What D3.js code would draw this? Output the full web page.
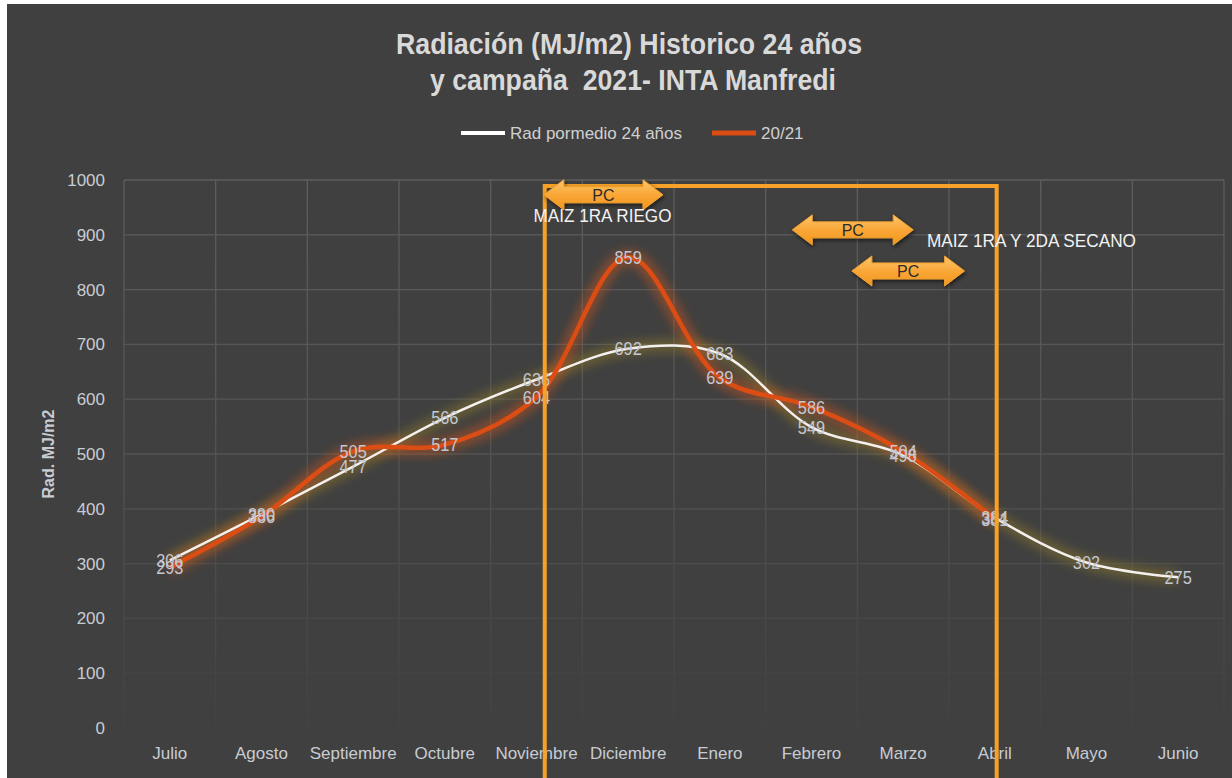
<!DOCTYPE html>
<meta charset="utf-8">
<style>
body { margin: 0; background: #fff; }
svg { display: block; }
text { font-family: "Liberation Sans Narrow", "Arial Narrow", "Liberation Sans", sans-serif; }
</style>
<body>
<script src="https://cdn.jsdelivr.net/npm/d3@7"></script>
<script>
'use strict';

// data
const months = ["Julio", "Agosto", "Septiembre", "Octubre", "Noviembre", "Diciembre",
                "Enero", "Febrero", "Marzo", "Abril", "Mayo", "Junio"];
const radHist = [306, 390, 477, 566, 636, 692, 683, 549, 498, 384, 302, 275];
const rad2021 = [293, 386, 505, 517, 604, 859, 639, 586, 504, 381];
const yTicks = [0, 100, 200, 300, 400, 500, 600, 700, 800, 900, 1000];

// annotations (month index, value)
const arrows = [
  {x0: 4.08, x1: 5.38, v: 973},
  {x0: 6.79, x1: 8.11, v: 909},
  {x0: 7.44, x1: 8.67, v: 834}
];
const notes = [
  {text: "MAIZ 1RA RIEGO", x: 4.72, v: 934, anchor: "middle"},
  {text: "MAIZ 1RA Y 2DA SECANO", x: 8.26, v: 889, anchor: "start"}
];
const frame = {x0: 4.09, x1: 9.02, v: 989};

const W = 1232, H = 778;
const svg = d3.select("body").append("svg").attr("width", W).attr("height", H);

svg.append("rect").attr("x", 7).attr("y", 4).attr("width", W - 7).attr("height", H - 4)
  .attr("fill", "#404040");

const x = d3.scaleLinear().domain([-0.5, 11.5]).range([124, 1224]);
const y = d3.scaleLinear().domain([0, 1000]).range([728, 180]);

const defs = svg.append("defs");
const fade = defs.append("linearGradient").attr("id", "fade")
  .attr("gradientUnits", "userSpaceOnUse")
  .attr("x1", 0).attr("x2", 0).attr("y1", 180).attr("y2", 740);
fade.append("stop").attr("offset", 0).attr("stop-color", "#fff").attr("stop-opacity", 1);
fade.append("stop").attr("offset", 0.55).attr("stop-color", "#fff").attr("stop-opacity", 0.6);
fade.append("stop").attr("offset", 1).attr("stop-color", "#fff").attr("stop-opacity", 0.05);
defs.append("mask").attr("id", "gridmask")
  .append("rect").attr("x", 0).attr("y", 0).attr("width", W).attr("height", H).attr("fill", "url(#fade)");

defs.append("filter").attr("id", "glow").attr("x", "-10%").attr("y", "-30%").attr("width", "120%").attr("height", "160%")
  .append("feGaussianBlur").attr("stdDeviation", 5);

const shadow = defs.append("filter").attr("id", "shadow").attr("x", "-20%").attr("y", "-40%").attr("width", "140%").attr("height", "200%");
shadow.append("feDropShadow").attr("dx", 1).attr("dy", 2).attr("stdDeviation", 2)
  .attr("flood-color", "#000").attr("flood-opacity", 0.6);

const ag = defs.append("linearGradient").attr("id", "arrowfill").attr("x1", 0).attr("x2", 0).attr("y1", 0).attr("y2", 1);
ag.append("stop").attr("offset", 0).attr("stop-color", "#fcc76e");
ag.append("stop").attr("offset", 0.5).attr("stop-color", "#f9a737");
ag.append("stop").attr("offset", 1).attr("stop-color", "#f2961c");

// grid
const grid = svg.append("g").attr("mask", "url(#gridmask)")
  .attr("stroke", "#5e5e5e").attr("stroke-width", 1.3);
grid.selectAll("line.h").data(yTicks).join("line")
  .attr("x1", x(-0.5)).attr("x2", x(11.5))
  .attr("y1", d => y(d)).attr("y2", d => y(d));
grid.selectAll("line.v").data(d3.range(13)).join("line")
  .attr("x1", d => x(d - 0.5)).attr("x2", d => x(d - 0.5))
  .attr("y1", y(1000)).attr("y2", y(0));

// y axis
svg.append("g").selectAll("text").data(yTicks).join("text")
  .attr("x", 105).attr("y", d => y(d)).attr("dy", "0.35em")
  .attr("text-anchor", "end").attr("font-size", 17).attr("fill", "#c8ccd2")
  .text(d => d);
svg.append("text")
  .attr("transform", `translate(54,${y(500)}) rotate(-90)`)
  .attr("text-anchor", "middle").attr("font-size", 16).attr("font-weight", "bold").attr("fill", "#c8ccd2")
  .text("Rad. MJ/m2");

// x axis
svg.append("g").selectAll("text").data(months).join("text")
  .attr("x", (d, i) => x(i)).attr("y", 753).attr("dy", "0.35em")
  .attr("text-anchor", "middle").attr("font-size", 17).attr("fill", "#c8ccd2")
  .text(d => d);

// lines
const line = d3.line().x((d, i) => x(i)).y(d => y(d)).curve(d3.curveCatmullRom.alpha(0.5));

svg.append("path").attr("d", line(radHist)).attr("fill", "none")
  .attr("stroke", "#9c8428").attr("stroke-width", 14).attr("opacity", 0.4).attr("filter", "url(#glow)");
svg.append("path").attr("d", line(rad2021)).attr("fill", "none")
  .attr("stroke", "#d8581a").attr("stroke-width", 16).attr("opacity", 0.42).attr("filter", "url(#glow)");

svg.append("path").attr("d", line(radHist)).attr("fill", "none")
  .attr("stroke", "#f4f0ee").attr("stroke-width", 2.5);
svg.append("path").attr("d", line(rad2021)).attr("fill", "none")
  .attr("stroke", "#dc4d14").attr("stroke-width", 4.5);

// data labels
const lbl = svg.append("g").attr("font-size", 19).attr("fill", "#c4c8d2").attr("text-anchor", "middle");
const narrow = (sel) => sel.attr("transform", function() {
  const cx = +this.getAttribute("x"), cy = +this.getAttribute("y");
  return `translate(${cx},${cy}) scale(0.86,1) translate(${-cx},${-cy})`;
});
lbl.selectAll("text.h").data(radHist).join("text")
  .attr("x", (d, i) => x(i)).attr("y", d => y(d)).attr("dy", "0.35em").text(d => d).call(narrow);
lbl.append("g").selectAll("text").data(rad2021).join("text")
  .attr("x", (d, i) => x(i)).attr("y", d => y(d)).attr("dy", "0.35em").text(d => d).call(narrow);

// orange frame
svg.append("path")
  .attr("d", `M${x(frame.x0)},${H + 5}V${y(frame.v)}H${x(frame.x1)}V${H + 5}`)
  .attr("fill", "none").attr("stroke", "#f7a128").attr("stroke-width", 4);

// double arrows
const arrowPath = (a) => {
  const l = x(a.x0), r = x(a.x1), c = y(a.v);
  const hw = 20, hh = 15, sh = 8;
  return `M${l},${c}L${l + hw},${c - hh}V${c - sh}H${r - hw}V${c - hh}L${r},${c}` +
         `L${r - hw},${c + hh}V${c + sh}H${l + hw}V${c + hh}Z`;
};
const ar = svg.append("g").selectAll("g").data(arrows).join("g");
ar.append("path").attr("d", arrowPath).attr("fill", "url(#arrowfill)")
  .attr("stroke", "#f0a030").attr("stroke-width", 1).attr("filter", "url(#shadow)");
ar.append("text").attr("x", d => (x(d.x0) + x(d.x1)) / 2).attr("y", d => y(d.v)).attr("dy", "0.38em")
  .attr("text-anchor", "middle").attr("font-size", 16).attr("fill", "#2a2a2a").text("PC");

svg.append("g").selectAll("text").data(notes).join("text")
  .attr("x", d => x(d.x)).attr("y", d => y(d.v)).attr("dy", "0.35em")
  .attr("text-anchor", d => d.anchor).attr("font-size", 18).attr("fill", "#f2f2f2")
  .attr("textLength", d => d.anchor === "middle" ? 138 : 209).attr("lengthAdjust", "spacingAndGlyphs")
  .text(d => d.text);

// title
svg.append("text").attr("x", 629).attr("y", 54).attr("text-anchor", "middle")
  .attr("font-size", 30).attr("font-weight", "bold").attr("fill", "#d9d9d9")
  .attr("textLength", 466).attr("lengthAdjust", "spacingAndGlyphs")
  .text("Radiación (MJ/m2) Historico 24 años");
svg.append("text").attr("x", 633).attr("y", 90).attr("text-anchor", "middle")
  .attr("font-size", 30).attr("font-weight", "bold").attr("fill", "#d9d9d9")
  .attr("textLength", 406).attr("lengthAdjust", "spacingAndGlyphs")
  .attr("xml:space", "preserve")
  .text("y campaña  2021- INTA Manfredi");

// legend
const legend = [
  {name: "Rad pormedio 24 años", color: "#ffffff", w: 4, x: 461},
  {name: "20/21", color: "#dc4d14", w: 5, x: 712}
];
const lg = svg.append("g").selectAll("g").data(legend).join("g");
lg.append("line").attr("x1", d => d.x).attr("x2", d => d.x + 44)
  .attr("y1", 133).attr("y2", 133).attr("stroke", d => d.color).attr("stroke-width", d => d.w);
lg.append("text").attr("x", d => d.x + 49).attr("y", 133).attr("dy", "0.35em")
  .attr("font-size", 17).attr("fill", "#d0d0d0").text(d => d.name);
</script>
